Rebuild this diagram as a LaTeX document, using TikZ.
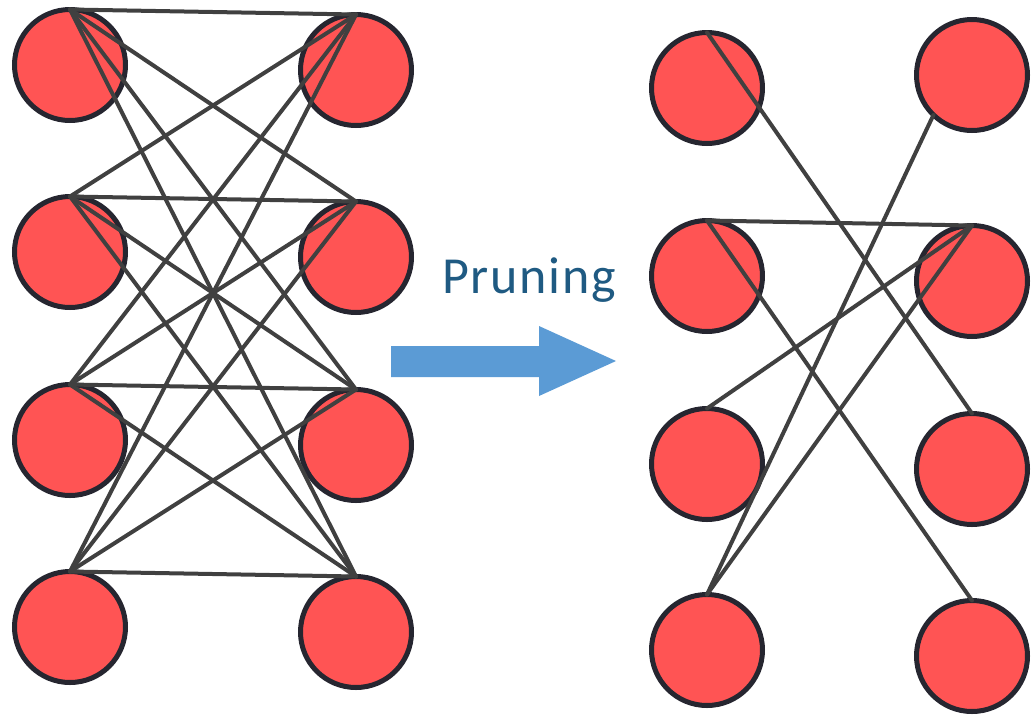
\documentclass[tikz,border=0pt]{standalone}
\usepackage{fontspec}
\setmainfont{Carlito}
\newfontfamily\labelfont[LetterSpace=3.2]{Carlito}
\definecolor{neuron}{RGB}{255,84,84}
\definecolor{rim}{RGB}{38,38,48}
\definecolor{wire}{RGB}{64,64,64}
\definecolor{arrowblue}{RGB}{91,155,213}
\definecolor{textblue}{RGB}{31,90,130}
\begin{document}
\begin{tikzpicture}[x=1pt,y=-1pt,
  neuronnode/.style={circle,draw=rim,fill=neuron,line width=5pt,minimum size=111pt,inner sep=0pt,outer sep=0pt},
  wireline/.style={draw=wire,line width=4pt,line cap=round}]
\useasboundingbox (0,0) rectangle (1031,716);
% left network
\node[neuronnode] (a1) at (70,65) {};
\node[neuronnode] (a2) at (70,252) {};
\node[neuronnode] (a3) at (70,440) {};
\node[neuronnode] (a4) at (70,627) {};
\node[neuronnode] (b1) at (356,70) {};
\node[neuronnode] (b2) at (356,257) {};
\node[neuronnode] (b3) at (356,445) {};
\node[neuronnode] (b4) at (356,632) {};
\foreach \i in {1,...,4}{\foreach \j in {1,...,4}{\draw[wireline] (a\i.north) -- (b\j.north);}}
% right network
\node[neuronnode] (c1) at (707,88) {};
\node[neuronnode] (c2) at (707,276) {};
\node[neuronnode] (c3) at (707,464) {};
\node[neuronnode] (c4) at (707,650) {};
\node[neuronnode] (d1) at (972,75) {};
\node[neuronnode] (d2) at (972,281) {};
\node[neuronnode] (d3) at (972,469) {};
\node[neuronnode] (d4) at (972,656) {};
\draw[wireline] (c1.north) -- (d3.north);
\draw[wireline] (c2.north) -- (d2.north);
\draw[wireline] (c2.north) -- (d4.north);
\draw[wireline] (c3.north) -- (d2.north);
\draw[wireline] (c4.north) -- (d2.north);
\draw[wireline] (c4.north) -- (d1.226);
% arrow and label
\fill[arrowblue] (391,346) -- (539,346) -- (539,326) -- (616,361) -- (539,396) -- (539,377) -- (391,377) -- cycle;
\node[text=textblue,font=\labelfont\fontsize{52}{60}\selectfont,anchor=base,inner sep=0pt] (lbl) at (529,293) {Pruning};
\end{tikzpicture}
\end{document}
